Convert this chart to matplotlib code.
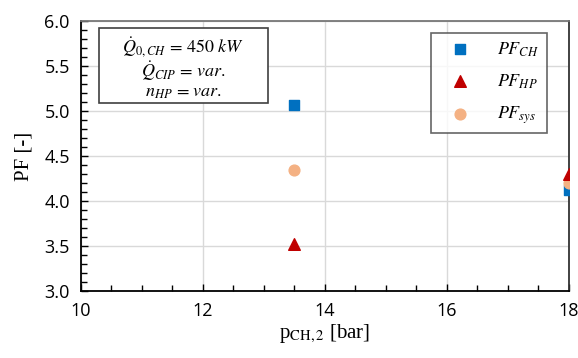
import numpy as np
import matplotlib
matplotlib.use('Agg')
from matplotlib import pyplot as plt
from matplotlib.ticker import MultipleLocator
from matplotlib.patches import Rectangle

plt.rcParams['mathtext.fontset'] = 'stix'

# data
p_ch2 = [13.5, 18.0]
pf_ch = [5.07, 4.12]
pf_hp = [3.52, 4.30]
pf_sys = [4.35, 4.20]

x_ticks = [10, 12, 14, 16, 18]
y_ticks = [3.0, 3.5, 4.0, 4.5, 5.0, 5.5, 6.0]

info_lines = [r'$\dot{Q}_{0,CH}$ = $450\ kW$',
              r'$\dot{Q}_{CIP}$ = $var.$',
              r'$n_{HP}$ = $var.$']

fig = plt.figure(figsize=(5.78, 3.58), dpi=100)
ax = fig.add_axes([0.140, 0.187, 0.844, 0.754])

ax.scatter(p_ch2, pf_ch, marker='s', s=60, color='#0070C0', label=r'$PF_{CH}$', zorder=3)
ax.scatter(p_ch2, pf_hp, marker='^', s=70, color='#C00000', label=r'$PF_{HP}$', zorder=4)
ax.scatter(p_ch2, pf_sys, marker='o', s=60, color='#F4B183', label=r'$PF_{sys}$', zorder=3)

ax.set_xlim(10, 18)
ax.set_ylim(3.0, 6.0)
ax.set_xticks(x_ticks)
ax.set_yticks(y_ticks)
ax.set_yticklabels(['%.1f' % v for v in y_ticks])
ax.xaxis.set_minor_locator(MultipleLocator(0.5))
ax.yaxis.set_minor_locator(MultipleLocator(0.1))
ax.tick_params(which='both', direction='in', top=False, right=False)
ax.tick_params(which='major', length=5, width=1, labelsize=13, pad=8)
ax.tick_params(which='minor', length=4, width=1)
for lab in ax.get_xticklabels() + ax.get_yticklabels():
    lab.set_fontfamily('Open Sans')

ax.grid(True, color='#d9d9d9', linewidth=1, zorder=0)
ax.set_axisbelow(True)
ax.spines['left'].set_color('black')
ax.spines['bottom'].set_color('black')
ax.spines['right'].set_color('#333333')
ax.spines['top'].set_color('#777777')
for s in ax.spines.values():
    s.set_linewidth(1.3)

ax.set_xlabel(r'p$_{\mathrm{CH,2}}$ [bar]', fontsize=15, family='Liberation Serif', labelpad=2)
ax.set_ylabel('PF [-]', fontsize=15, family='Liberation Serif', labelpad=8)

# info box
ax.add_patch(Rectangle((0.037, 0.696), 0.346, 0.278, transform=ax.transAxes,
                       fc='white', ec='#404040', lw=1.2, zorder=5))
for txt, yy in zip(info_lines, [0.905, 0.815, 0.735]):
    ax.text(0.21, yy, txt, transform=ax.transAxes, ha='center', va='center',
            fontsize=13, family='STIXGeneral', zorder=6)

leg = ax.legend(loc='upper right', bbox_to_anchor=(0.955, 0.956), fontsize=13,
                frameon=True, fancybox=False, edgecolor='#404040',
                labelspacing=0.75, borderpad=0.4, handletextpad=0.8,
                borderaxespad=0, handlelength=2.5)
leg.get_frame().set_linewidth(1.2)

fig.savefig('out.png', dpi=100)
